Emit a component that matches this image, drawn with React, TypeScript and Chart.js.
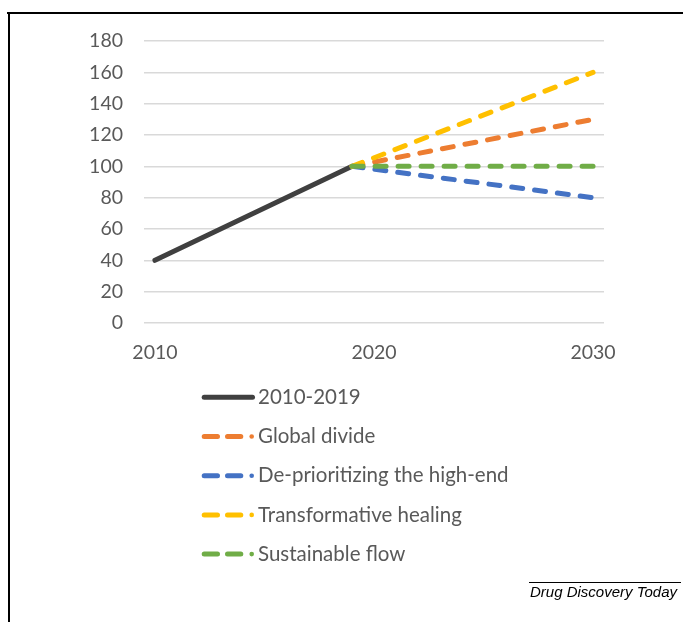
import React, { useEffect, useRef } from 'react';
import { Chart, registerables } from 'chart.js';

Chart.register(...registerables);

// ---- Data ----
const years = ['2010','2011','2012','2013','2014','2015','2016','2017','2018','2019','2020','2021','2022','2023','2024','2025','2026','2027','2028','2029','2030'];
const shownYearLabels = ['2010', '2020', '2030'];
const seriesNames = ['2010-2019', 'Global divide', 'De-prioritizing the high-end', 'Transformative healing', 'Sustainable flow'];
const N = null;
const history2010to2019 = [40, N, N, N, N, N, N, N, N, 100, N, N, N, N, N, N, N, N, N, N, N];
const globalDivide = [N, N, N, N, N, N, N, N, N, 100, N, N, N, N, N, N, N, N, N, N, 130];
const deprioritizing = [N, N, N, N, N, N, N, N, N, 100, N, N, N, N, N, N, N, N, N, N, 80];
const transformative = [N, N, N, N, N, N, N, N, N, 100, N, N, N, N, N, N, N, N, N, N, 160];
const sustainable = [N, N, N, N, N, N, N, N, N, 100, N, N, N, N, N, N, N, N, N, N, 100];
const yMin = 0;
const yMax = 180;
const yStep = 20;

const colors = ['#404040', '#ED7D31', '#4472C4', '#FFC000', '#70AD47'];
const FONT = 'Lato, "Open Sans", sans-serif';
const TEXT = '#595959';

const legendPlugin = {
  id: 'verticalLegend',
  afterDraw(chart: any) {
    const ctx = chart.ctx;
    ctx.save();
    const rowY0 = 397.3;
    const rowGap = 39.2;
    chart.data.datasets.forEach((ds: any, i: number) => {
      const y = rowY0 + i * rowGap;
      ctx.strokeStyle = ds.borderColor;
      ctx.fillStyle = ds.borderColor;
      ctx.lineWidth = 5;
      ctx.lineCap = 'round';
      ctx.setLineDash([]);
      if (i === 0) {
        ctx.beginPath();
        ctx.moveTo(204.2, y);
        ctx.lineTo(252.5, y);
        ctx.stroke();
      } else {
        ctx.beginPath();
        ctx.moveTo(204.2, y);
        ctx.lineTo(217.5, y);
        ctx.moveTo(227.5, y);
        ctx.lineTo(240.8, y);
        ctx.stroke();
        ctx.beginPath();
        ctx.arc(251.7, y, 2.3, 0, Math.PI * 2);
        ctx.fill();
      }
      ctx.fillStyle = TEXT;
      ctx.font = `20.5px ${FONT}`;
      ctx.textBaseline = 'middle';
      ctx.textAlign = 'left';
      ctx.fillText(ds.label, 258, y);
    });
    ctx.restore();
  },
};

export default function App() {
  const ref = useRef<HTMLCanvasElement | null>(null);

  useEffect(() => {
    if (!ref.current) return;
    const dash = [11, 12];
    const makeDs = (i: number, data: (number | null)[], dashed: boolean, order: number) => ({
      label: seriesNames[i],
      data,
      borderColor: colors[i],
      backgroundColor: colors[i],
      borderWidth: 5,
      borderDash: dashed ? dash : [],
      borderCapStyle: 'round',
      pointRadius: 0,
      pointHoverRadius: 0,
      spanGaps: true,
      fill: false,
      tension: 0,
      order,
    });
    const chart = new Chart(ref.current, {
      type: 'line',
      data: {
        labels: years,
        datasets: [
          makeDs(0, history2010to2019, false, 5),
          makeDs(1, globalDivide, true, 4),
          makeDs(2, deprioritizing, true, 3),
          makeDs(3, transformative, true, 2),
          makeDs(4, sustainable, true, 1),
        ] as any,
      },
      options: {
        responsive: false,
        animation: false,
        devicePixelRatio: 1,
        layout: { padding: { left: 60, right: 87, top: 41, bottom: 259 } },
        plugins: {
          legend: { display: false },
          tooltip: { enabled: false },
        },
        scales: {
          x: {
            type: 'category',
            offset: true,
            grid: { display: false, drawTicks: false },
            border: { display: false },
            ticks: {
              autoSkip: false,
              maxRotation: 0,
              padding: 18,
              color: TEXT,
              font: { family: FONT, size: 19.5 },
              callback: (_v: any, i: number) => (shownYearLabels.includes(years[i]) ? years[i] : ''),
            },
            afterFit: (s: any) => { s.height = 40; },
          },
          y: {
            min: yMin,
            max: yMax,
            grid: { color: '#D9D9D9', lineWidth: 1.5, drawTicks: false },
            border: { display: false },
            ticks: {
              stepSize: yStep,
              padding: 21,
              color: TEXT,
              font: { family: FONT, size: 19.5 },
            },
            afterFit: (s: any) => { s.width = 84; },
          },
        },
      },
      plugins: [legendPlugin],
    });
    return () => chart.destroy();
  }, []);

  return (
    <div style={{ position: 'absolute', left: 0, top: 0, width: 691, height: 622, background: '#fff', overflow: 'hidden' }}>
      <canvas ref={ref} width={691} height={622} style={{ position: 'absolute', left: 0, top: 0, width: 691, height: 622 }} />
      <div style={{ position: 'absolute', left: 7, top: 12, width: 676, height: 2, background: '#000' }} />
      <div style={{ position: 'absolute', left: 8, top: 12, width: 2, height: 610, background: '#000' }} />
      <div style={{ position: 'absolute', left: 529, top: 582, width: 152, height: 1, background: '#000' }} />
      <div style={{ position: 'absolute', left: 530, top: 583, fontFamily: '"Liberation Sans", Arial, sans-serif', fontStyle: 'italic', fontSize: 15, color: '#000', whiteSpace: 'nowrap', lineHeight: '17px' }}>
        Drug Discovery Today
      </div>
    </div>
  );
}
